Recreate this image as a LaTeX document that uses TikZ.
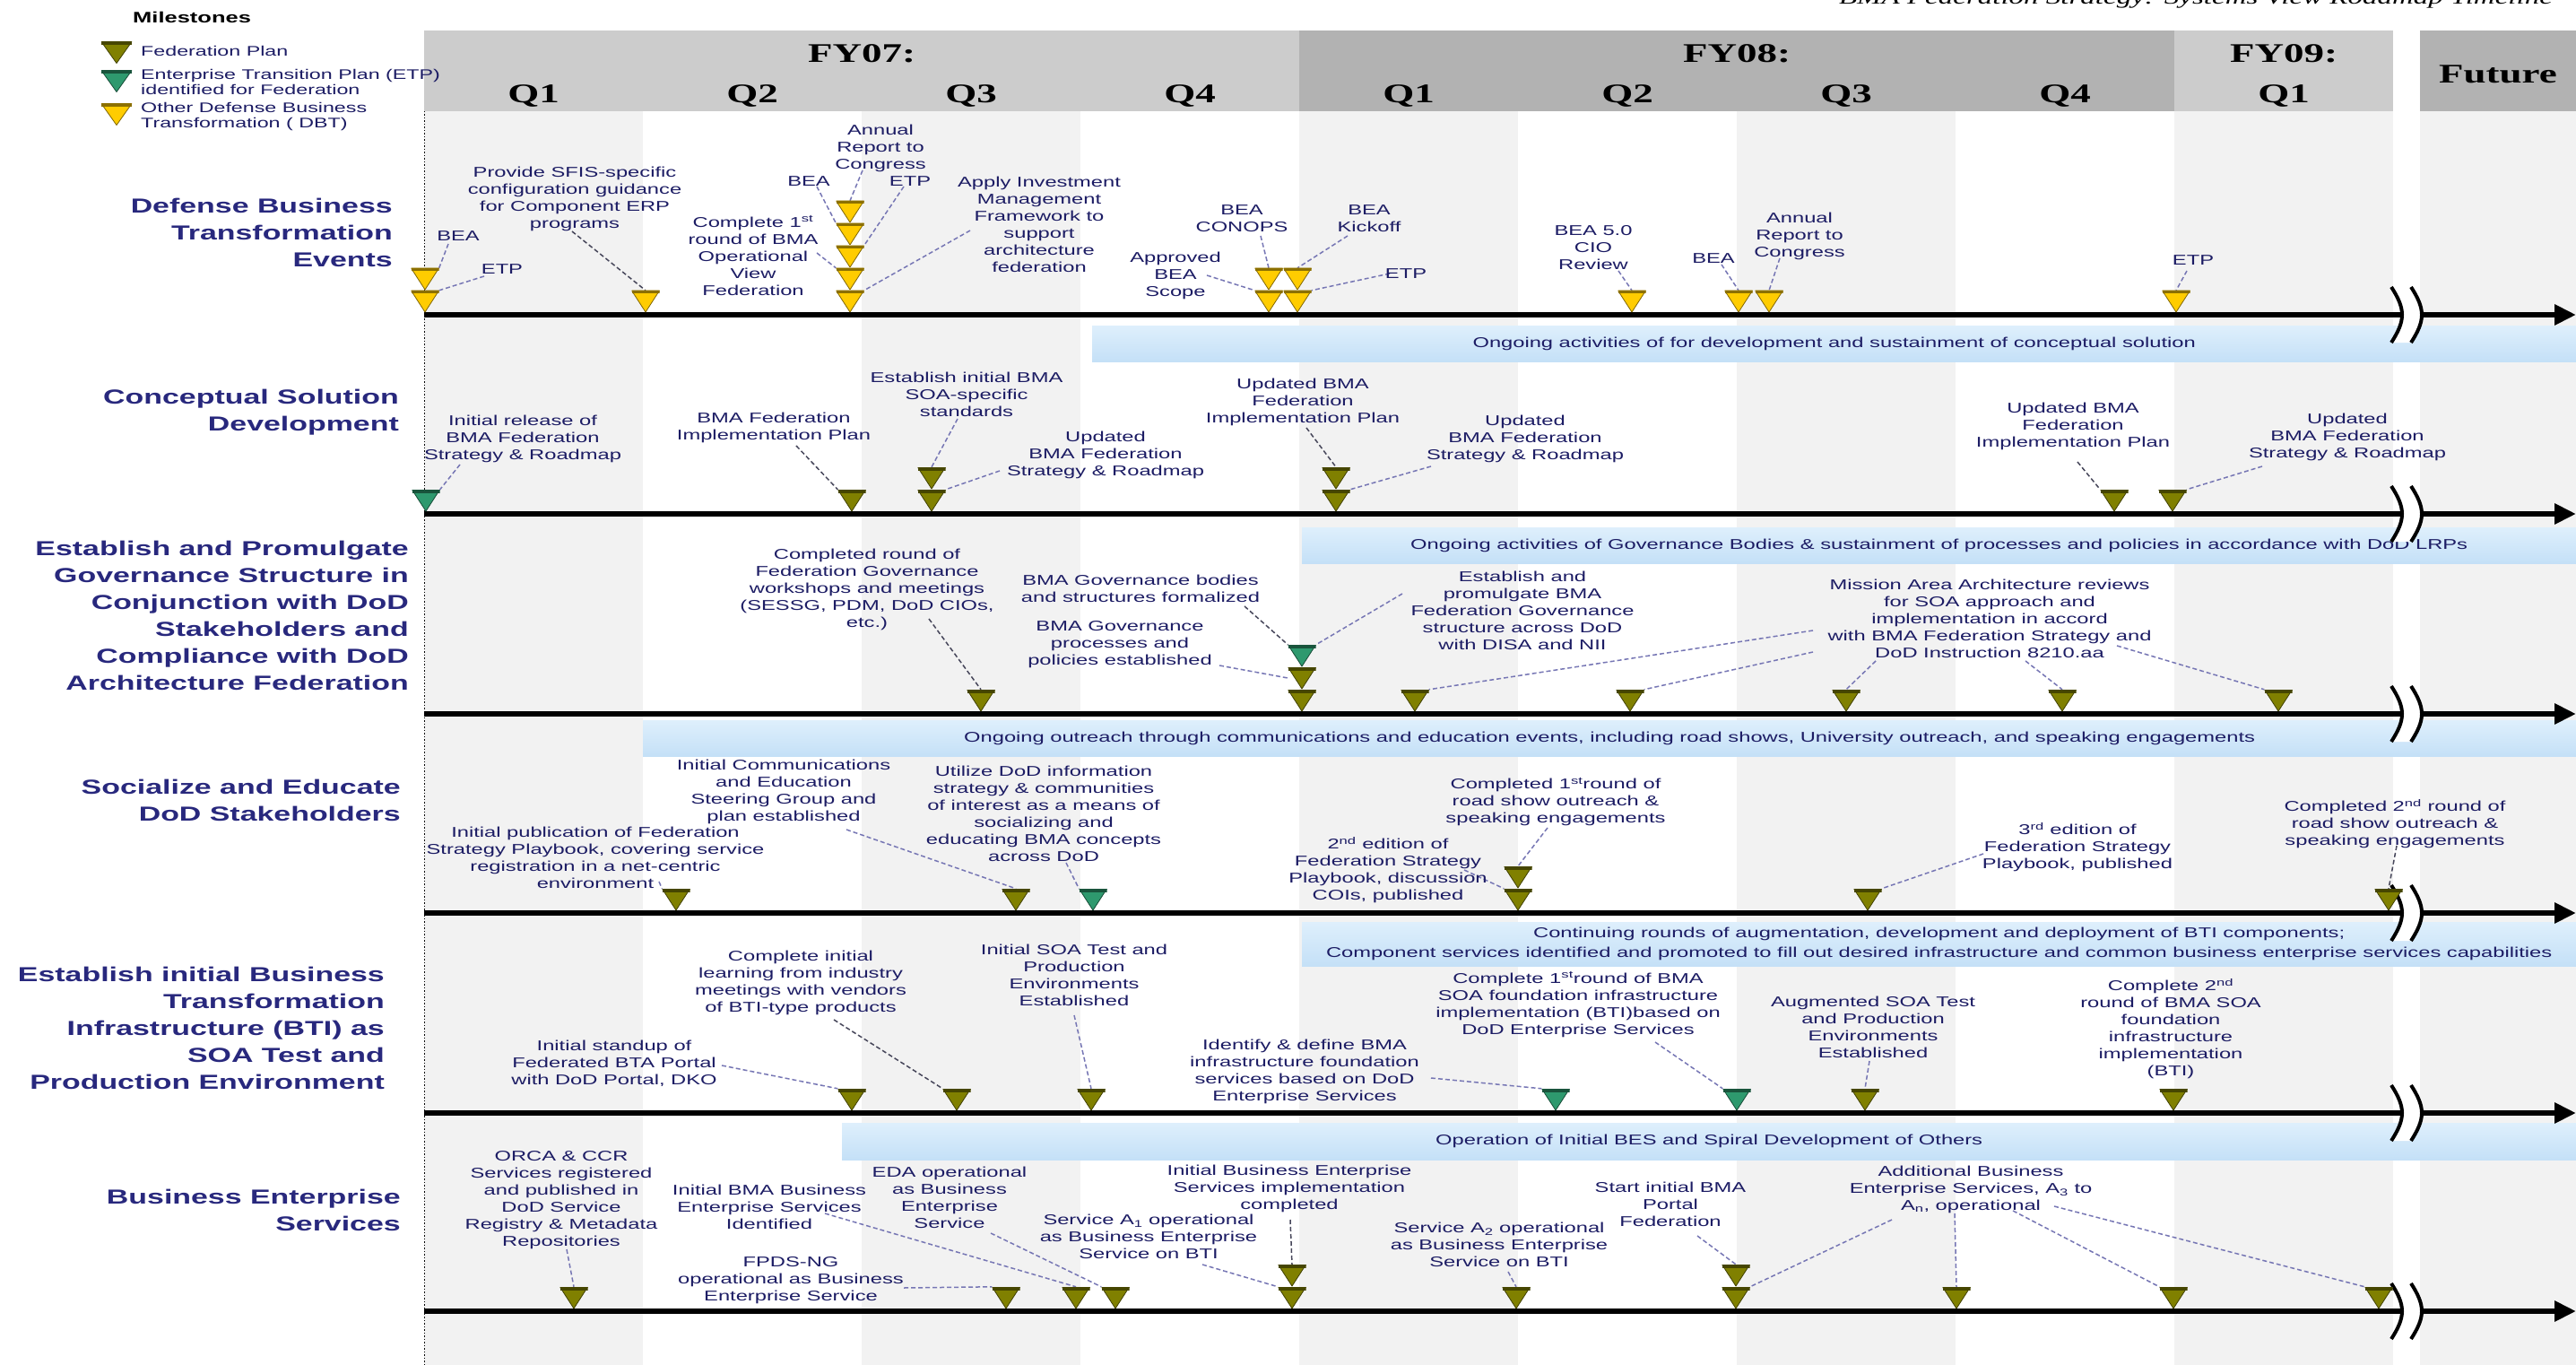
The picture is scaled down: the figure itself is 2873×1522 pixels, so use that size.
\documentclass[tikz,border=0pt]{standalone}
\usepackage{fontspec}
\usetikzlibrary{arrows.meta}
\newfontfamily\labfont{Liberation Sans}[FakeStretch=1.5]
\newfontfamily\hdrfont{Liberation Serif}[FakeStretch=1.5]

\definecolor{olv}{RGB}{128,128,0}
\definecolor{grn}{RGB}{46,153,110}
\definecolor{ylw}{RGB}{255,204,0}
\definecolor{labc}{RGB}{28,28,100}
\definecolor{rowc}{RGB}{40,40,125}
\definecolor{leadc}{RGB}{118,118,180}
\definecolor{leadd}{RGB}{70,70,90}
\definecolor{stripe}{RGB}{242,242,242}
\definecolor{hdrA}{RGB}{204,204,204}
\definecolor{hdrB}{RGB}{178,178,178}
\definecolor{barT}{RGB}{222,239,252}
\definecolor{barB}{RGB}{196,224,247}

\pgfdeclarelayer{back}
\pgfdeclarelayer{mid}
\pgfsetlayers{back,mid,main}

\tikzset{
  mk/.style={shape=rectangle, inner sep=0pt, minimum width=31pt, minimum height=24pt,
    path picture={
      \fill[#1] (path picture bounding box.north west) -- (path picture bounding box.north east)
        -- (path picture bounding box.south) -- cycle;
      \draw[#1!50!black, line width=0.8pt, line join=round]
        (path picture bounding box.north west) -- (path picture bounding box.north east)
        -- (path picture bounding box.south) -- cycle;
      \fill[#1!55!black] (path picture bounding box.north west)
        rectangle ([yshift=-3.5pt]path picture bounding box.north east);
    }},
  lgm/.style={mk=#1, minimum width=34pt, minimum height=24pt},
  lab/.style={font=\labfont\fontsize{15.8}{19}\selectfont, text=labc, align=center, inner sep=0pt},
  leg/.style={font=\labfont\fontsize{15.5}{17}\selectfont, text=labc, align=left, inner sep=0pt, anchor=west},
  rowt/.style={font=\labfont\bfseries\fontsize{22.6}{30}\selectfont, text=rowc, align=right, inner sep=0pt, anchor=east},
  hdr/.style={font=\hdrfont\bfseries\fontsize{30}{30}\selectfont, inner sep=0pt},
  bar/.style={anchor=north west, inner sep=0pt, top color=barT, bottom color=barB, draw=none,
    font=\labfont\fontsize{15.8}{22}\selectfont, text=labc, align=center},
  lead/.style={draw=leadc, line width=1.5pt, dash pattern=on 5pt off 3pt},
  leadk/.style={lead, draw=leadd},
  axis/.style={line width=6pt, -{Triangle[length=24pt,width=22pt]}},
}

% break symbol across a time axis at height #1
\newcommand\axbreak[1]{%
  \fill[white] (2667,#1-31) .. controls (2683,#1-6) and (2683,#1+6) .. (2667,#1+31)
    -- (2689,#1+31) .. controls (2705,#1+6) and (2705,#1-6) .. (2689,#1-31) -- cycle;
  \draw[line width=4pt] (2667,#1-31) .. controls (2683,#1-6) and (2683,#1+6) .. (2667,#1+31);
  \draw[line width=4pt] (2689,#1-31) .. controls (2705,#1-6) and (2705,#1+6) .. (2689,#1+31);
}

\begin{document}
\begin{tikzpicture}[x=1pt, y=-1pt]
\useasboundingbox (0,0) rectangle (2873,1522);

\begin{pgfonlayer}{back}
  \fill[white] (0,0) rectangle (2873,1522);
  % quarter stripes
  \foreach \i in {0,2,4,6,8}
    \fill[stripe] ({473+244*\i},124) rectangle ({473+244*(\i+1)},1522);
  \fill[stripe] (2699,124) rectangle (2873,1522);
  % header bands
  \fill[hdrA] (473,34) rectangle (1449,124);
  \fill[hdrB] (1449,34) rectangle (2425,124);
  \fill[hdrA] (2425,34) rectangle (2669,124);
  \fill[hdrB] (2699,34) rectangle (2873,124);
  % start-of-timeline marker line
  \coordinate (vtop) at (473.5,124);
  \coordinate (vbot) at (473.5,1522);
  \draw[line width=1.3pt, dash pattern=on 1.5pt off 2pt] (vtop) -- (vbot);
  % ongoing activity bars
  \node[bar, minimum width=1655pt, minimum height=40pt] (B2) at (1218,363)
    {Ongoing activities of for development and sustainment of conceptual solution};
  \node[bar, minimum width=1421pt, minimum height=40pt] (B3) at (1452,588)
    {Ongoing activities of Governance Bodies \& sustainment of processes and policies in accordance with DoD LRPs};
  \node[bar, minimum width=2156pt, minimum height=40pt] (B4) at (717,803)
    {Ongoing outreach through communications and education events, including road shows, University outreach, and speaking engagements};
  \node[bar, minimum width=1421pt, minimum height=49pt] (B5) at (1452,1028)
    {Continuing rounds of augmentation, development and deployment of BTI components;\\Component services identified and promoted to fill out desired infrastructure and common business enterprise services capabilities};
  \node[bar, minimum width=1934pt, minimum height=41pt] (B6) at (939,1252)
    {Operation of Initial BES and Spiral Development of Others};
  % time axes
  \foreach \n/\yy in {1/351,2/573,3/796,4/1018,5/1241,6/1462}{
    \coordinate (a\n s) at (473,\yy);
    \coordinate (a\n e) at (2873,\yy);
    \draw[axis] (a\n s) -- (a\n e);
  }
  \axbreak{351}\axbreak{573}\axbreak{796}\axbreak{1018}\axbreak{1241}\axbreak{1462}
\end{pgfonlayer}

% title and header
\node[font=\hdrfont\itshape\fontsize{22}{22}\selectfont, anchor=base east, inner sep=0pt] (TT) at (2847,5)
  {BMA Federation Strategy: Systems View Roadmap Timeline};
\node[hdr] (FY07) at (961,60) {FY07:};
\node[hdr] (FY08) at (1937,60) {FY08:};
\node[hdr] (FY09) at (2547,60) {FY09:};
\node[hdr] (FUT) at (2786,83) {Future};
\foreach \i/\q in {0/Q1,1/Q2,2/Q3,3/Q4,4/Q1,5/Q2,6/Q3,7/Q4,8/Q1}
  \node[hdr] (Q\i) at ({595+244*\i},107) {\q};

% legend
\node[font=\labfont\bfseries\fontsize{17}{17}\selectfont, anchor=west, inner sep=0pt] (MS) at (148,19) {Milestones};
\node[lgm=olv] (g1) at (130,58.5) {};
\node[lgm=grn] (g2) at (130,90.5) {};
\node[lgm=ylw] (g3) at (130,127.5) {};
\node[leg] (G1) at (157,57) {Federation Plan};
\node[leg] (G2) at (157,91.5) {Enterprise Transition Plan (ETP)\\identified for Federation};
\node[leg] (G3) at (157,129.5) {Other Defense Business\\Transformation ( DBT)};

% row titles
\node[rowt] (R1) at (438,259.5) {Defense Business\\Transformation\\Events};
\node[rowt] (R2) at (445,459.5) {Conceptual Solution\\Development};
\node[rowt] (R3) at (456,686) {Establish and Promulgate\\Governance Structure in\\Conjunction with DoD\\Stakeholders and\\Compliance with DoD\\Architecture Federation};
\node[rowt] (R4) at (447,892) {Socialize and Educate\\DoD Stakeholders};
\node[rowt] (R5) at (429,1146) {Establish initial Business\\Transformation\\Infrastructure (BTI) as\\SOA Test and\\Production Environment};
\node[rowt] (R6) at (447,1349.5) {Business Enterprise\\Services};

% ---------- row 1: defense business transformation events ----------
\node[mk=ylw] (m1a) at (474,336) {};
\node[mk=ylw] (m1b) at (474,311) {};
\node[mk=ylw] (m2) at (720,336) {};
\node[mk=ylw] (m3a) at (948,336) {};
\node[mk=ylw] (m3b) at (948,311) {};
\node[mk=ylw] (m3c) at (948,286) {};
\node[mk=ylw] (m3d) at (948,261) {};
\node[mk=ylw] (m3e) at (948,236) {};
\node[mk=ylw] (m4a) at (1415,336) {};
\node[mk=ylw] (m4b) at (1415,311) {};
\node[mk=ylw] (m5a) at (1447,336) {};
\node[mk=ylw] (m5b) at (1447,311) {};
\node[mk=ylw] (m6) at (1820,336) {};
\node[mk=ylw] (m7) at (1939,336) {};
\node[mk=ylw] (m8) at (1973,336) {};
\node[mk=ylw] (m9) at (2427,336) {};

\node[lab] (L1bea) at (511,263) {BEA};
\node[lab] (L1etp) at (560,300) {ETP};
\node[lab] (L1sfis) at (641,222) {Provide SFIS-specific\\configuration guidance\\for Component ERP\\programs};
\node[lab] (L1ann) at (982,165.5) {Annual\\Report to\\Congress};
\node[lab] (L1bea2) at (902,202) {BEA};
\node[lab] (L1etp2) at (1015,202) {ETP};
\node[lab] (L1cmp) at (840,285) {Complete 1\textsuperscript{st}\\round of BMA\\Operational\\View\\Federation};
\node[lab] (L1apply) at (1159,250.5) {Apply Investment\\Management\\Framework to\\support\\architecture\\federation};
\node[lab] (L1conops) at (1385,243.5) {BEA\\CONOPS};
\node[lab] (L1appr) at (1311,307) {Approved\\BEA\\Scope};
\node[lab] (L1kick) at (1527,243.5) {BEA\\Kickoff};
\node[lab] (L1etp3) at (1568,305) {ETP};
\node[lab] (L1cio) at (1777,276) {BEA 5.0\\CIO\\Review};
\node[lab] (L1bea3) at (1911,288) {BEA};
\node[lab] (L1ann2) at (2007,263) {Annual\\Report to\\Congress};
\node[lab] (L1etp4) at (2446,290) {ETP};

% ---------- row 2: conceptual solution development ----------
\node[mk=grn] (n1) at (475,558) {};
\node[mk=olv] (n2) at (950,558) {};
\node[mk=olv] (n3a) at (1039,558) {};
\node[mk=olv] (n3b) at (1039,533) {};
\node[mk=olv] (n4a) at (1490,558) {};
\node[mk=olv] (n4b) at (1490,533) {};
\node[mk=olv] (n5) at (2358,558) {};
\node[mk=olv] (n6) at (2423,558) {};

\node[lab] (L2init) at (583,489.5) {Initial release of\\BMA Federation\\Strategy \& Roadmap};
\node[lab] (L2imp) at (863,477) {BMA Federation\\Implementation Plan};
\node[lab] (L2soa) at (1078,440) {Establish initial BMA\\SOA-specific\\standards};
\node[lab] (L2upd) at (1233,507) {Updated\\BMA Federation\\Strategy \& Roadmap};
\node[lab] (L2imp2) at (1453,448.5) {Updated BMA\\Federation\\Implementation Plan};
\node[lab] (L2upd2) at (1701,489.5) {Updated\\BMA Federation\\Strategy \& Roadmap};
\node[lab] (L2imp3) at (2312,475) {Updated BMA\\Federation\\Implementation Plan};
\node[lab] (L2upd3) at (2618,487) {Updated\\BMA Federation\\Strategy \& Roadmap};

% ---------- row 3: governance structure ----------
\node[mk=olv] (p1) at (1094,781) {};
\node[mk=olv] (p2a) at (1452,781) {};
\node[mk=olv] (p2b) at (1452,756) {};
\node[mk=grn] (p2c) at (1452,731) {};
\node[mk=olv] (p3) at (1578,781) {};
\node[mk=olv] (p4) at (1818,781) {};
\node[mk=olv] (p5) at (2059,781) {};
\node[mk=olv] (p6) at (2300,781) {};
\node[mk=olv] (p7) at (2541,781) {};

\node[lab] (L3wk) at (967,657.5) {Completed round of\\Federation Governance\\workshops and meetings\\(SESSG, PDM, DoD CIOs,\\etc.)};
\node[lab] (L3bod) at (1272,656) {BMA Governance bodies\\and structures formalized};
\node[lab] (L3proc) at (1249,719) {BMA Governance\\processes and\\policies established};
\node[lab] (L3est) at (1698,680.5) {Establish and\\promulgate BMA\\Federation Governance\\structure across DoD\\with DISA and NII};
\node[lab] (L3mis) at (2219,690) {Mission Area Architecture reviews\\for SOA approach and\\implementation in accord\\with BMA Federation Strategy and\\DoD Instruction 8210.aa};

% ---------- row 4: socialize and educate ----------
\node[mk=olv] (q1) at (754,1003) {};
\node[mk=olv] (q2) at (1133,1003) {};
\node[mk=grn] (q3) at (1219,1003) {};
\node[mk=olv] (q4a) at (1693,1003) {};
\node[mk=olv] (q4b) at (1693,978) {};
\node[mk=olv] (q5) at (2083,1003) {};
\node[mk=olv] (q6) at (2664,1003) {};

\node[lab] (L4pub) at (664,956) {Initial publication of Federation\\Strategy Playbook, covering service\\registration in a net-centric\\environment};
\node[lab] (L4ini) at (874,883) {Initial Communications\\and Education\\Steering Group and\\plan established};
\node[lab] (L4util) at (1164,907.5) {Utilize DoD information\\strategy \& communities\\of interest as a means of\\socializing and\\educating BMA concepts\\across DoD};
\node[lab] (L4c1) at (1735,894) {Completed 1\textsuperscript{st}round of\\road show outreach \&\\speaking engagements};
\node[lab] (L4e2) at (1548,970.5) {2\textsuperscript{nd} edition of\\Federation Strategy\\Playbook, discussion\\COIs, published};
\node[lab] (L4e3) at (2317,944.5) {3\textsuperscript{rd} edition of\\Federation Strategy\\Playbook, published};
\node[lab] (L4c2) at (2671,919) {Completed 2\textsuperscript{nd} round of\\road show outreach \&\\speaking engagements};

% ---------- row 5: business transformation infrastructure ----------
\node[mk=olv] (s1) at (950,1226) {};
\node[mk=olv] (s2) at (1067,1226) {};
\node[mk=olv] (s3) at (1217,1226) {};
\node[mk=grn] (s4) at (1735,1226) {};
\node[mk=grn] (s5) at (1937,1226) {};
\node[mk=olv] (s6) at (2080,1226) {};
\node[mk=olv] (s7) at (2424,1226) {};

\node[lab] (L5std) at (685,1186) {Initial standup of\\Federated BTA Portal\\with DoD Portal, DKO};
\node[lab] (L5lrn) at (893,1095.5) {Complete initial\\learning from industry\\meetings with vendors\\of BTI-type products};
\node[lab] (L5soa) at (1198,1087) {Initial SOA Test and\\Production\\Environments\\Established};
\node[lab] (L5idf) at (1455,1194.5) {Identify \& define BMA\\infrastructure foundation\\services based on DoD\\Enterprise Services};
\node[lab] (L5c1) at (1760,1120) {Complete 1\textsuperscript{st}round of BMA\\SOA foundation infrastructure\\implementation (BTI)based on\\DoD Enterprise Services};
\node[lab] (L5aug) at (2089,1145.5) {Augmented SOA Test\\and Production\\Environments\\Established};
\node[lab] (L5c2) at (2421,1147.5) {Complete 2\textsuperscript{nd}\\round of BMA SOA\\foundation\\infrastructure\\implementation\\(BTI)};

% ---------- row 6: business enterprise services ----------
\node[mk=olv] (t1) at (640,1447) {};
\node[mk=olv] (t2) at (1122,1447) {};
\node[mk=olv] (t3) at (1200,1447) {};
\node[mk=olv] (t4) at (1244,1447) {};
\node[mk=olv] (t5a) at (1441,1447) {};
\node[mk=olv] (t5b) at (1441,1422) {};
\node[mk=olv] (t6) at (1691,1447) {};
\node[mk=olv] (t7a) at (1936,1447) {};
\node[mk=olv] (t7b) at (1936,1422) {};
\node[mk=olv] (t8) at (2182,1447) {};
\node[mk=olv] (t9) at (2424,1447) {};
\node[mk=olv] (t10) at (2653,1447) {};

\node[lab] (L6orca) at (626,1338) {ORCA \& CCR\\Services registered\\and published in\\DoD Service\\Registry \& Metadata\\Repositories};
\node[lab] (L6fpds) at (882,1427.5) {FPDS-NG\\operational as Business\\Enterprise Service};
\node[lab] (L6ibma) at (858,1346) {Initial BMA Business\\Enterprise Services\\Identified};
\node[lab] (L6eda) at (1059,1335) {EDA operational\\as Business\\Enterprise\\Service};
\node[lab] (L6ibes) at (1438,1325.5) {Initial Business Enterprise\\Services implementation\\completed};
\node[lab] (L6a1) at (1281,1379) {Service A\textsubscript{1} operational\\as Business Enterprise\\Service on BTI};
\node[lab] (L6a2) at (1672,1388) {Service A\textsubscript{2} operational\\as Business Enterprise\\Service on BTI};
\node[lab] (L6portal) at (1863,1343) {Start initial BMA\\Portal\\Federation};
\node[lab] (L6add) at (2198,1326.5) {Additional Business\\Enterprise Services, A\textsubscript{3} to\\A\textsubscript{n}, operational};

% ---------- leader lines ----------
\begin{pgfonlayer}{mid}
  \draw[lead] ([shift={(-11,9)}]L1bea.center) -- (m1b.north east);
  \draw[lead] ([shift={(-20,8)}]L1etp.center) -- (m1a.north east);
  \draw[leadk] ([shift={(-3,36)}]L1sfis.center) -- (m2.north);
  \draw[lead] ([shift={(-20,24.5)}]L1ann.center) -- (m3e.north);
  \draw[lead] ([shift={(9,6)}]L1bea2.center) -- (m3d.north west);
  \draw[lead] ([shift={(-7,6)}]L1etp2.center) -- (m3c.north east);
  \draw[lead] ([shift={(71,-3)}]L1cmp.center) -- (m3b.north west);
  \draw[lead] ([shift={(-77,6.5)}]L1apply.center) -- (m3a.north east);
  \draw[lead] ([shift={(21,19.5)}]L1conops.center) -- (m4b.north);
  \draw[lead] ([shift={(35,0)}]L1appr.center) -- (m4a.north west);
  \draw[lead] ([shift={(-24,19.5)}]L1kick.center) -- (m5b.north);
  \draw[lead] ([shift={(-18,0)}]L1etp3.center) -- (m5a.north east);
  \draw[lead] ([shift={(28,26)}]L1cio.center) -- (m6.north);
  \draw[lead] ([shift={(9,7)}]L1bea3.center) -- (m7.north);
  \draw[lead] ([shift={(-22,25)}]L1ann2.center) -- (m8.north);
  \draw[lead] ([shift={(-7,12)}]L1etp4.center) -- (m9.north);

  \draw[lead] ([shift={(-70,28.5)}]L2init.center) -- (n1.north east);
  \draw[leadk] ([shift={(25,20)}]L2imp.center) -- (n2.north west);
  \draw[lead] ([shift={(-10,27)}]L2soa.center) -- (n3b.north);
  \draw[lead] ([shift={(-118,18)}]L2upd.center) -- (n3a.north east);
  \draw[leadk] ([shift={(4,28.5)}]L2imp2.center) -- (n4b.north);
  \draw[lead] ([shift={(-105,30.5)}]L2upd2.center) -- (n4a.north east);
  \draw[leadk] ([shift={(5,40)}]L2imp3.center) -- (n5.north west);
  \draw[lead] ([shift={(-95,33)}]L2upd3.center) -- (n6.north east);

  \draw[leadk] ([shift={(69,32.5)}]L3wk.center) -- (p1.north);
  \draw[leadk] ([shift={(116,20)}]L3bod.center) -- (p2c.north west);
  \draw[lead] ([shift={(111,23)}]L3proc.center) -- (p2b.west);
  \draw[lead] ([shift={(-134,-18.5)}]L3est.center) -- (p2c.north east);
  \draw[lead] ([shift={(-197,13)}]L3mis.center) -- (p3.north east);
  \draw[lead] ([shift={(-197,37)}]L3mis.center) -- (p4.north east);
  \draw[lead] ([shift={(-127,47)}]L3mis.center) -- (p5.north);
  \draw[lead] ([shift={(40,47)}]L3mis.center) -- (p6.north);
  \draw[lead] ([shift={(142,30)}]L3mis.center) -- (p7.north west);

  \draw[lead] ([shift={(71,27)}]L4pub.center) -- (q1.north west);
  \draw[lead] ([shift={(70,42)}]L4ini.center) -- (q2.north);
  \draw[lead] ([shift={(25,54.5)}]L4util.center) -- (q3.north west);
  \draw[lead] ([shift={(-9,29)}]L4c1.center) -- (q4b.north);
  \draw[lead] ([shift={(85,-0.5)}]L4e2.center) -- (q4a.north west);
  \draw[lead] ([shift={(-105,7.5)}]L4e3.center) -- (q5.north east);
  \draw[leadk] ([shift={(2,24)}]L4c2.center) -- (q6.north);

  \draw[lead] ([shift={(120,2)}]L5std.center) -- (s1.north west);
  \draw[leadk] ([shift={(37,41.5)}]L5lrn.center) -- (s2.north west);
  \draw[lead] ([shift={(0,45)}]L5soa.center) -- (s3.north);
  \draw[lead] ([shift={(141,7.5)}]L5idf.center) -- (s4.north west);
  \draw[lead] ([shift={(86,42)}]L5c1.center) -- (s5.north west);
  \draw[lead] ([shift={(-4,37.5)}]L5aug.center) -- (s6.north);

  \draw[lead] ([shift={(6,55)}]L6orca.center) -- (t1.north);
  \draw[lead] ([shift={(126,8.5)}]L6fpds.center) -- (t2.north west);
  \draw[lead] ([shift={(62,7)}]L6ibma.center) -- (t3.north);
  \draw[lead] ([shift={(46,40)}]L6eda.center) -- (t4.north west);
  \draw[leadk] ([shift={(1,34.5)}]L6ibes.center) -- (t5b.north);
  \draw[lead] ([shift={(60,31)}]L6a1.center) -- (t5a.north west);
  \draw[lead] ([shift={(10,30)}]L6a2.center) -- (t6.north);
  \draw[lead] ([shift={(30,35)}]L6portal.center) -- (t7b.north);
  \draw[lead] ([shift={(-88,33.5)}]L6add.center) -- (t7a.north east);
  \draw[lead] ([shift={(-18,26.5)}]L6add.center) -- (t8.north);
  \draw[lead] ([shift={(47,23.5)}]L6add.center) -- (t9.north west);
  \draw[lead] ([shift={(93,18.5)}]L6add.center) -- (t10.north west);
\end{pgfonlayer}
\end{tikzpicture}
\end{document}
